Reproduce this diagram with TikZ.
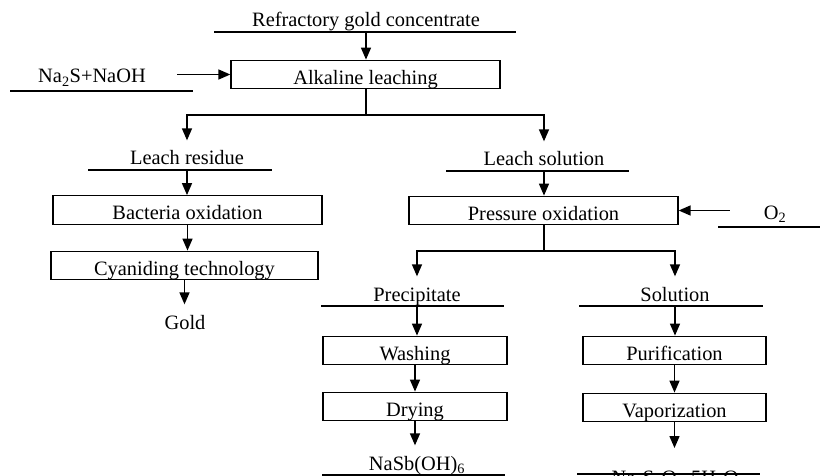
\documentclass[tikz,border=0pt]{standalone}
\usepackage{fontspec}
\setmainfont{Liberation Serif}
\usetikzlibrary{arrows.meta}
\begin{document}
\begin{tikzpicture}[x=1pt,y=-1pt,
  font=\fontsize{20.4}{24}\selectfont,
  line width=1.3pt,
  box/.style={draw, line width=1.3pt, inner sep=0pt, text height=24pt, text depth=4.5pt},
  lbl/.style={inner sep=0pt, anchor=base, text height=24pt, text depth=5pt},
  uline/.style={line width=1.3pt},
  arr/.style={line width=1.5pt, -{Triangle[length=12pt,width=10pt]}}]
\useasboundingbox (0,0) rectangle (820,476);
\clip (0,0) rectangle (820,476);
% boxes
\node[box, minimum width=269pt] (alk) at (365.5,74.5) {Alkaline leaching};
\node[box, minimum width=269pt] (bact) at (187.5,210) {Bacteria oxidation};
\node[box, minimum width=267pt] (cyan) at (184.5,265.5) {Cyaniding technology};
\node[box, minimum width=269pt] (press) at (543.5,210.5) {Pressure oxidation};
\node[box, minimum width=184pt] (wash) at (415,350.5) {Washing};
\node[box, minimum width=184pt] (dry) at (415,406.5) {Drying};
\node[box, minimum width=183pt] (puri) at (674.5,350.5) {Purification};
\node[box, minimum width=183pt] (vap) at (674.5,407.5) {Vaporization};
% labels
\node[lbl] (ref) at (366,27) {Refractory gold concentrate};
\draw[uline] (214,32) -- (516,32);
\node[lbl] (na2s) at (92,83) {Na\textsubscript{2}S+NaOH};
\draw[uline] (10,91) -- (193,91);
\node[lbl] (resid) at (187,165) {Leach residue};
\draw[uline] (88,170) -- (272,170);
\node[lbl] (sol) at (544,166) {Leach solution};
\draw[uline] (446,171) -- (629,171);
\node[lbl] (o2) at (775,219) {O\textsubscript{2}};
\draw[uline] (718,227) -- (820,227);
\node[lbl] (gold) at (185,329) {Gold};
\node[lbl] (prec) at (417,301) {Precipitate};
\draw[uline] (321,306) -- (504,306);
\node[lbl] (solu) at (675,301) {Solution};
\draw[uline] (579,306) -- (763,306);
\node[lbl] (nasb) at (417,470) {NaSb(OH)\textsubscript{6}};
\draw[uline] (322,475) -- (505,475);
\node[lbl] (thio) at (675,484.6) {Na\textsubscript{2}S\textsubscript{2}O\textsubscript{3}·5H\textsubscript{2}O};
\draw[uline] (577,474) -- (760,474);
% split coordinates
\coordinate (s1) at (366,115);
\coordinate (s2) at (544,251);
\coordinate (e1) at (674.5,448);
% connectors
\draw[arr] (ref.south) -- (ref.south |- alk.north);
\draw[arr] (alk.west) ++(-53,0) -- (alk.west);
\draw (alk.south -| s1) -- (s1);
\draw[arr] (s1) -| (resid.north);
\draw[arr] (s1) -| (sol.north);
\draw[arr] (resid.south) -- (resid.south |- bact.north);
\draw[arr] (bact.south) -- (bact.south |- cyan.north);
\draw[arr] (cyan.south) -- (cyan.south |- gold.north);
\draw[arr] (sol.south) -- (sol.south |- press.north);
\draw[arr] (press.east) ++(51,0) -- (press.east);
\draw (press.south -| s2) -- (s2);
\draw[arr] (s2) -| (prec.north);
\draw[arr] (s2) -| (solu.north);
\draw[arr] (prec.south) -- (prec.south |- wash.north);
\draw[arr] (wash.south) -- (dry.north);
\draw[arr] (dry.south) -- (dry.south |- nasb.north);
\draw[arr] (solu.south) -- (solu.south |- puri.north);
\draw[arr] (puri.south) -- (vap.north);
\draw[arr] (vap.south) -- (e1);
\end{tikzpicture}
\end{document}
